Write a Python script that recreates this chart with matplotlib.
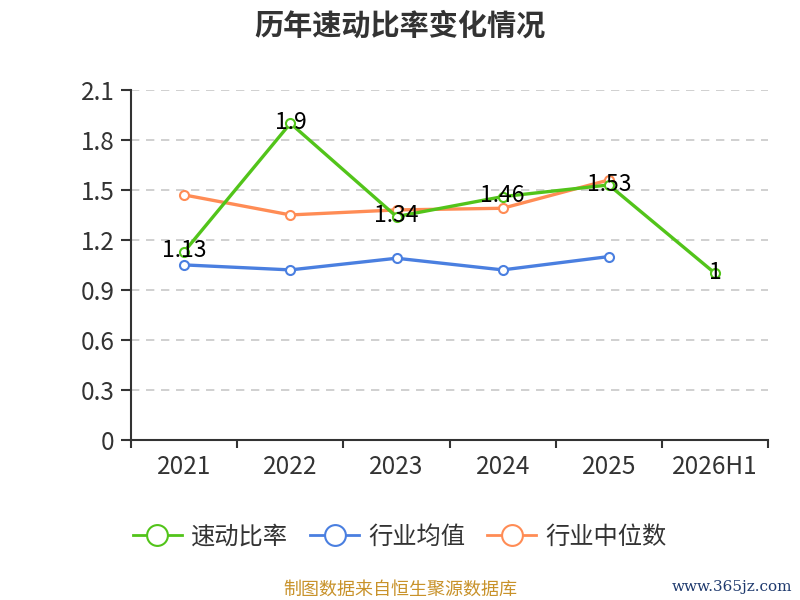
import numpy as np
import matplotlib.pyplot as plt
from matplotlib.lines import Line2D

plt.rcParams['font.family'] = ['Noto Sans CJK SC', 'DejaVu Sans']

# data
years = ['2021', '2022', '2023', '2024', '2025', '2026H1']
quick_ratio = [1.13, 1.9, 1.34, 1.46, 1.53, 1.0]
ind_mean = [1.05, 1.02, 1.09, 1.02, 1.10]
ind_median = [1.47, 1.35, 1.38, 1.39, 1.56]
yticks = [0, 0.3, 0.6, 0.9, 1.2, 1.5, 1.8, 2.1]
labels = ['1.13', '1.9', '1.34', '1.46', '1.53', '1']

c_green = '#52c41a'
c_blue = '#4a7fe0'
c_orange = '#ff8c55'

fig = plt.figure(figsize=(8, 6), dpi=100)
ax = fig.add_axes([0.164, 0.267, 0.796, 0.583])

x = np.arange(len(years))
mk = dict(marker='o', markersize=6.5, markerfacecolor='white', markeredgewidth=1.5)
ax.plot(x[:5], ind_mean, color=c_blue, lw=2.4, markeredgecolor=c_blue, zorder=3, **mk)
ax.plot(x[:5], ind_median, color=c_orange, lw=2.4, markeredgecolor=c_orange, zorder=4, **mk)
ax.plot(x, quick_ratio, color=c_green, lw=2.4, markeredgecolor=c_green, zorder=5, **mk)

for xi, v, t in zip(x, quick_ratio, labels):
    ax.text(xi, v + 0.005, t, ha='center', va='center', fontsize=16.5,
            color='black', zorder=6)

ax.set_xlim(-0.5, len(years) - 0.5)
ax.set_ylim(0, 2.1)
ax.set_yticks(yticks)
ax.set_yticklabels(['0'] + [f'{v:.1f}' for v in yticks[1:]])
ax.set_xticks(x)
ax.set_xticklabels(years)
ax.set_xticks(np.arange(-0.5, len(years), 1), minor=True)
ax.tick_params(axis='x', which='major', length=0, pad=10, labelsize=17.5, colors='#333333')
ax.tick_params(axis='x', which='minor', length=6, width=1.5, color='#333333')
ax.tick_params(axis='y', length=7, width=1.5, color='#333333', labelsize=17.5,
               labelcolor='#333333', pad=5)

ax.grid(axis='y', linestyle=(0, (5, 4)), color='#c8c8c8', lw=1.2)
for s in ['top', 'right']:
    ax.spines[s].set_visible(False)
for s in ['left', 'bottom']:
    ax.spines[s].set_color('#333333')
    ax.spines[s].set_linewidth(1.5)

fig.text(0.5, 0.958, '历年速动比率变化情况', ha='center', va='center',
         fontsize=21, fontweight='bold', color='#333333')

handles = [Line2D([0], [0], color=c, lw=2, marker='o', markersize=15,
                  markerfacecolor='white', markeredgecolor=c, markeredgewidth=1.5)
           for c in [c_green, c_blue, c_orange]]
fig.legend(handles, ['速动比率', '行业均值', '行业中位数'], loc='center',
           bbox_to_anchor=(0.5, 0.105), ncol=3, frameon=False, fontsize=17.5,
           handlelength=2.0, columnspacing=0.9, handletextpad=0.4,
           labelcolor='#333333')

fig.text(0.5, 0.018, '制图数据来自恒生聚源数据库', ha='center', va='center',
         fontsize=13, color='#c8922a')
fig.text(0.99, 0.022, 'www.365jz.com', ha='right', va='center',
         fontsize=11, color='#1f3a6e', family=['DejaVu Serif'])

fig.savefig('out.png', dpi=100)
